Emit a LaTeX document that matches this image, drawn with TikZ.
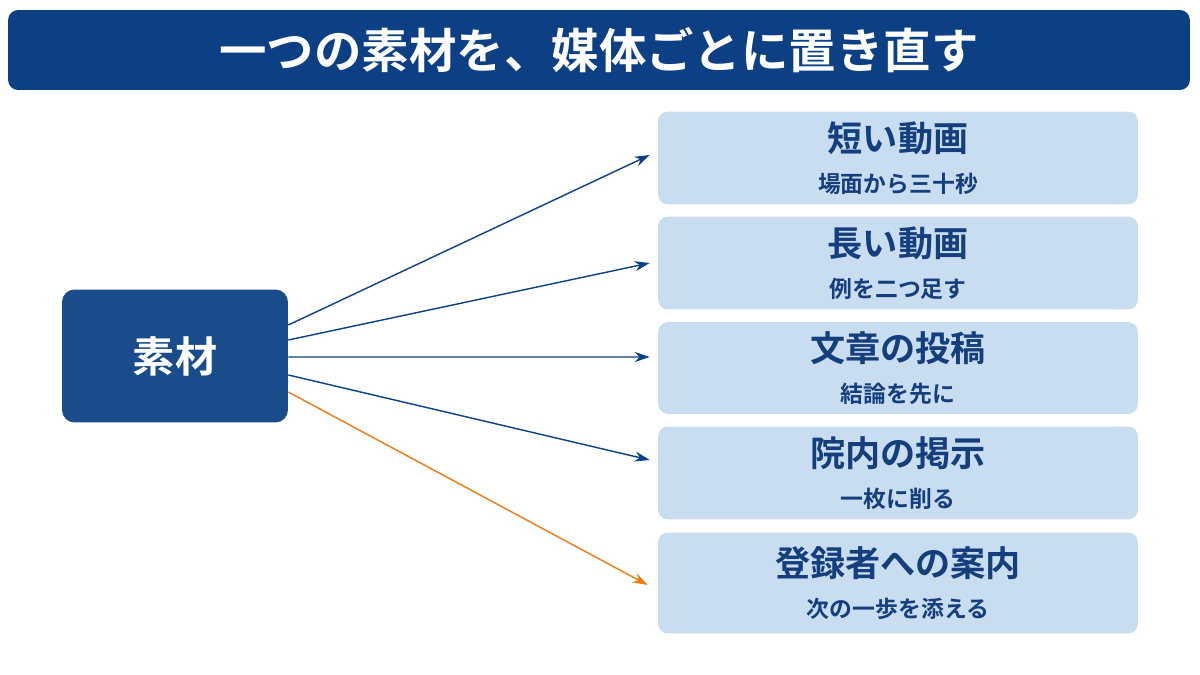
\documentclass[tikz,border=0pt]{standalone}
\usepackage{fontspec}
\setmainfont{Noto Sans CJK JP}[BoldFont={Noto Sans CJK JP Bold}]
\usetikzlibrary{positioning,arrows.meta}
\definecolor{navy}{HTML}{0D3F85}
\definecolor{srcblue}{HTML}{1A4C8C}
\definecolor{pale}{HTML}{C9DDF1}
\definecolor{ink}{HTML}{143E7C}
\definecolor{accent}{HTML}{F07A12}
\newcommand{\sub}[1]{{\fontsize{13}{16}\selectfont #1}}
\begin{document}
\begin{tikzpicture}[
    x=0.02cm, y=-0.02cm,
    media/.style={rectangle, fill=pale, rounded corners=0.2cm, minimum width=9.6cm, align=center, text=ink, font=\bfseries\fontsize{20}{23}\selectfont},
    flow/.style={-{Stealth[length=0.3cm,width=0.2cm]}, thick, draw=navy}
]
\useasboundingbox (0,0) rectangle (1200,675);

% Title bar
\node[rectangle, fill=navy, rounded corners=0.2cm, minimum width=23.64cm, minimum height=1.6cm, text=white, font=\bfseries\fontsize{27}{32}\selectfont] (title) at (599,50) {一つの素材を、媒体ごとに置き直す};

% Source
\node[rectangle, fill=srcblue, rounded corners=0.25cm, minimum width=4.52cm, minimum height=2.66cm, text=white, font=\bfseries\fontsize{24}{28}\selectfont] (src) at (175,356) {素材};

% Media boxes
\node[media, minimum height=1.86cm] (short) at (898,158) {短い動画\\\sub{場面から三十秒}};
\node[media, minimum height=1.86cm] (long) at (898,263) {長い動画\\\sub{例を二つ足す}};
\node[media, minimum height=1.84cm] (post) at (898,368) {文章の投稿\\\sub{結論を先に}};
\node[media, minimum height=1.86cm] (notice) at (898,473) {院内の掲示\\\sub{一枚に削る}};
\node[media, minimum height=2.02cm] (guide) at (898,583) {登録者への案内\\\sub{次の一歩を添える}};

% Arrows
\draw[flow] ([yshift=0.62cm]src.east) -- ([xshift=-0.16cm,yshift=0.06cm]short.west);
\draw[flow] ([yshift=0.32cm]src.east) -- ([xshift=-0.16cm]long.west);
\draw[flow] ([yshift=-0.02cm]src.east) -- ([xshift=-0.16cm,yshift=0.22cm]post.west);
\draw[flow] ([yshift=-0.38cm]src.east) -- ([xshift=-0.16cm,yshift=0.26cm]notice.west);
\draw[flow, draw=accent] ([yshift=-0.72cm]src.east) -- ([xshift=-0.2cm,yshift=-0.04cm]guide.west);

\end{tikzpicture}
\end{document}
